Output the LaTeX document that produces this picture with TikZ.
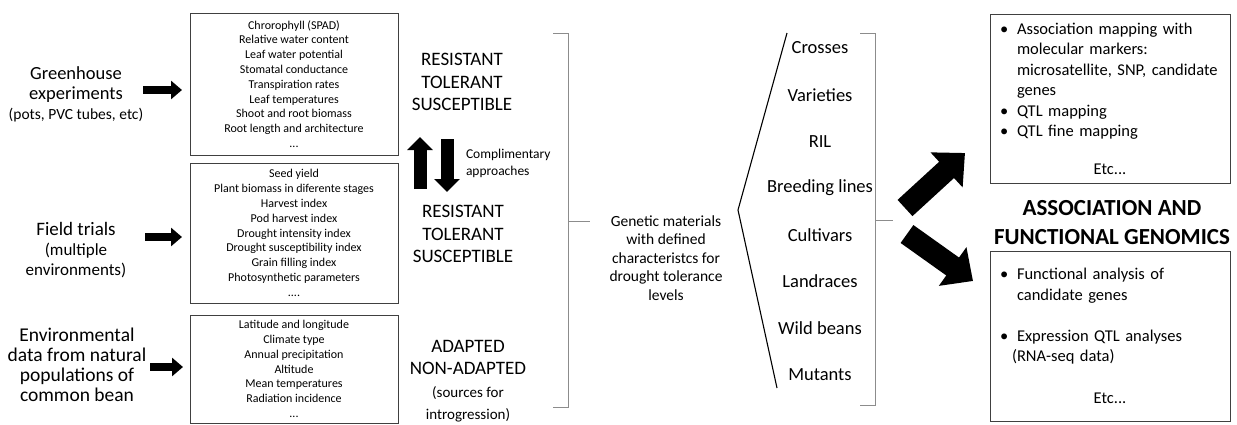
\documentclass[tikz,border=0pt]{standalone}
\usepackage{fontspec}
\setmainfont{Carlito}
\usetikzlibrary{positioning, arrows.meta}
\newcommand{\fs}[2]{\fontsize{#1}{#2}\selectfont}
\newcommand{\itemdot}{\makebox[20pt][l]{\hspace*{3pt}\textbullet}}
\tikzset{
  x=1pt, y=-1pt,
  every node/.style={inner sep=0pt, outer sep=0pt},
  source/.style={align=center, font=\fs{19}{20}},
  trait/.style={draw=black!75, line width=0.8pt, minimum width=208pt, align=center, font=\fs{12}{14.8}},
  level/.style={align=center, font=\fs{19}{22.5}},
  material/.style={font=\fs{18.5}{19}},
  result/.style={draw=black!75, line width=0.8pt, minimum width=240pt, text width=226pt, align=left, font=\fs{16.5}{20.5}},
  brace/.style={draw=black!45, line width=0.8pt},
  into/.style={line width=8pt, -{Triangle[width=18pt,length=11pt]}},
  swap/.style={line width=13pt, -{Triangle[width=25pt,length=13pt]}},
  fat/.style={line width=22pt, -{Triangle[width=46pt,length=25pt]}},
}

\begin{document}
\begin{tikzpicture}
  \useasboundingbox (0,0) rectangle (1237,424);
  % sources of phenotypes
  \node[source] (green) at (76,94) {\fs{18.5}{20}Greenhouse\\\fs{18.5}{20}experiments\\\fs{15.5}{18}(pots, PVC tubes, etc)};
  \node[source] (field) at (76,250) {Field trials\\\fs{17}{18}(multiple\\\fs{17}{18}environments)};
  \node[source] (env) at (77,365) {\fs{19.5}{20}Environmental\\\fs{19.5}{20}data from natural\\\fs{19.5}{20}populations of\\\fs{19.5}{20}common bean};
  % traits
  \node[trait, minimum height=142pt] (box1) at (294,84) {Chrorophyll (SPAD)\\Relative water content\\Leaf water potential\\Stomatal conductance\\Transpiration rates\\Leaf temperatures\\Shoot and root biomass\\Root length and architecture\\...};
  \node[trait, minimum height=140pt, below=8pt of box1] (box2) {Seed yield\\Plant biomass in diferente stages\\Harvest index\\Pod harvest index\\Drought intensity index\\Drought susceptibility index\\Grain filling index\\Photosynthetic parameters\\....};
  \node[trait, minimum height=108pt, below=12pt of box2] (box3) {Latitude and longitude\\Climate type\\Annual precipitation\\Altitude\\Mean temperatures\\Radiation incidence\\...};
  \draw[into] ([xshift=-47pt,yshift=-6pt]box1.west) -- ([xshift=-8pt,yshift=-6pt]box1.west);
  \draw[into] ([xshift=-45pt,yshift=-4pt]box2.west) -- ([xshift=-8pt,yshift=-4pt]box2.west);
  \draw[into] ([xshift=-40pt,yshift=2pt]box3.west) -- ([xshift=-7pt,yshift=2pt]box3.west);
  % levels
  \node[level] (cls1) at (462,82) {RESISTANT\\TOLERANT\\SUSCEPTIBLE};
  \node[level] (cls2) at (463,234) {RESISTANT\\TOLERANT\\SUSCEPTIBLE};
  \node[level] (adapt) at (468,381) {ADAPTED\\NON-ADAPTED\\\fs{15}{17}(sources for\\\fs{15}{17}introgression)};
  \coordinate (mid) at (433,165);
  \draw[swap] ([shift={(-13,24)}]mid) -- ([shift={(-13,-28)}]mid);
  \draw[swap] ([shift={(14,-26)}]mid) -- ([shift={(14,27)}]mid);
  \node[align=left, anchor=west, font=\fs{13.5}{17}] (compl) at (466,163) {Complimentary\\approaches};
  \draw[brace] (553,33) -- (568,33) -- (568,407) -- (553,407);
  \draw[brace] (568,221) -- (590,221);
  % genetic materials
  \node[align=center, font=\fs{15.5}{18.5}] (gen) at (666,258) {Genetic materials\\with defined\\characteristcs for\\drought tolerance\\levels};
  \draw[line width=1.1pt] (787,33) -- (738,210) -- (777,388);
  \foreach \name [count=\i] in {Crosses, Varieties, RIL, Breeding lines, Cultivars, Landraces, Wild beans, Mutants}
    \node[material] (m\i) at (820,{48+46.7*(\i-1)}) {\name};
  \draw[brace] (860,33) -- (875,33) -- (875,405) -- (860,405);
  \coordinate (fork) at (893,220);
  \draw[brace] (875,220) -- (fork);
  % genomics
  \node[result, minimum height=169pt] (assoc) at (1110,98.5) {\itemdot Association mapping with\\
    \hspace*{20pt}molecular markers:\\
    \hspace*{20pt}microsatellite, SNP, candidate\\
    \hspace*{20pt}genes\\
    \itemdot QTL mapping\\
    \itemdot QTL fine mapping\\[17pt]
    \makebox[226pt]{Etc...}};
  \node[align=center, font=\bfseries\fs{23}{29}] (head) at (1112,222.5) {ASSOCIATION AND\\FUNCTIONAL GENOMICS};
  \node[result, minimum height=170pt] (func) at (1110,336) {\itemdot Functional analysis of\\
    \hspace*{20pt}candidate genes\\[20.5pt]
    \itemdot Expression QTL analyses\\
    \hspace*{15pt}(RNA-seq data)\\[21.5pt]
    \makebox[226pt]{Etc...}};
  \draw[fat] ([shift={(12,-12)}]fork) -- ([shift={(-25,-30)}]assoc.south west);
  \draw[fat] ([shift={(14,14)}]fork) -- ([shift={(-17,30)}]func.north west);
\end{tikzpicture}
\end{document}
